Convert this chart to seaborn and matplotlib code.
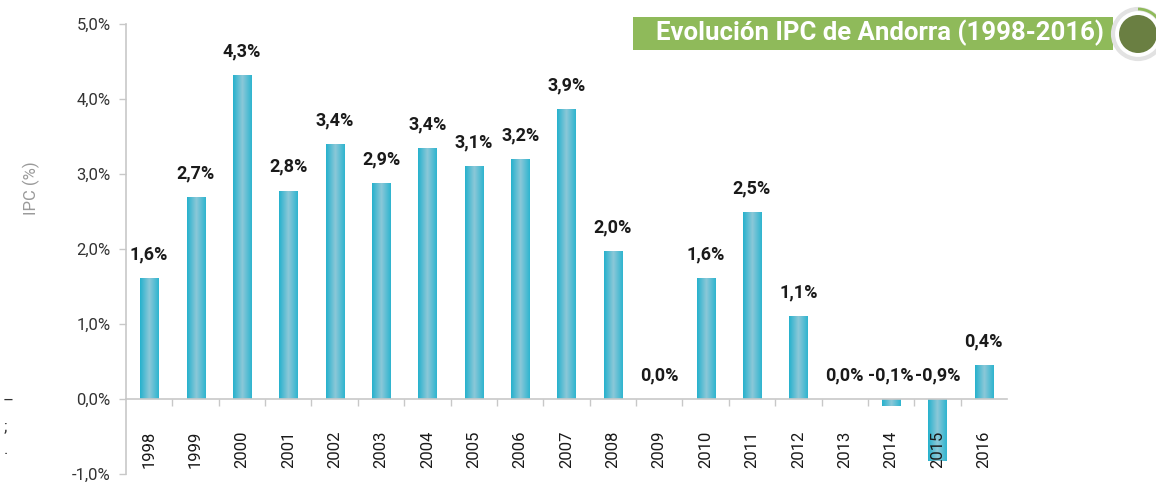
import numpy as np
import pandas as pd
import matplotlib
matplotlib.use("Agg")
import matplotlib.pyplot as plt
import seaborn as sns
from matplotlib.colors import LinearSegmentedColormap
from matplotlib.patches import Rectangle, Circle, Arc
from matplotlib.transforms import IdentityTransform
from matplotlib.ticker import FixedLocator, FuncFormatter

years = ["1998", "1999", "2000", "2001", "2002", "2003", "2004", "2005", "2006", "2007",
         "2008", "2009", "2010", "2011", "2012", "2013", "2014", "2015", "2016"]
ipc = [1.61, 2.69, 4.32, 2.78, 3.40, 2.88, 3.35, 3.11, 3.20, 3.87,
       1.97, 0.0, 1.61, 2.49, 1.11, 0.0, -0.10, -0.83, 0.45]
value_labels = ["1,6%", "2,7%", "4,3%", "2,8%", "3,4%", "2,9%", "3,4%", "3,1%", "3,2%", "3,9%",
                "2,0%", "0,0%", "1,6%", "2,5%", "1,1%", "0,0%", "-0,1%", "-0,9%", "0,4%"]
y_ticks = [-1, 0, 1, 2, 3, 4, 5]
title = "Evolución IPC de Andorra (1998-2016)"
ylabel = "IPC (%)"

sns.set_theme(style="white")
plt.rcParams["font.family"] = ["Roboto", "DejaVu Sans"]

W, H = 1156, 482
fig = plt.figure(figsize=(W / 100, H / 100), dpi=100)
ax = fig.add_axes([126 / W, 8 / H, 881 / W, 450 / H])

df = pd.DataFrame({"year": years, "ipc": ipc})
sns.barplot(data=df, x="year", y="ipc", ax=ax, width=0.39, color="#2ab3ce", saturation=1)

# gradient fill on bars
cmap = LinearSegmentedColormap.from_list("bar", ["#24b1cd", "#8cc8d8", "#2db4cf"], N=256)
grad = np.linspace(0, 1, 256).reshape(1, -1)
for p in list(ax.patches):
    x0, w = p.get_x(), p.get_width()
    y0, h = p.get_y(), p.get_height()
    if abs(h) < 1e-9:
        p.set_visible(False)
        continue
    ylo, yhi = min(y0, y0 + h), max(y0, y0 + h)
    im = ax.imshow(grad, cmap=cmap, aspect="auto", extent=[x0, x0 + w, ylo, yhi],
                   zorder=1.2, interpolation="bilinear")
    im.set_clip_path(p)
    p.set_facecolor("none")
    p.set_edgecolor("none")
ax.set_ylim(-1, 5)
ax.set_xlim(-0.5, len(years) - 0.5)
ax.set_axisbelow(False)

# value labels
for i, (v, lab) in enumerate(zip(ipc, value_labels)):
    base = max(v, 0)
    ax.annotate(lab, (i, base), xytext=(0, 13.5), textcoords="offset points",
                ha="center", va="baseline", fontsize=13, fontweight="bold", color="#1a1a1a")

# spines & ticks
for s in ["top", "right"]:
    ax.spines[s].set_visible(False)
ax.spines["bottom"].set_position(("data", 0))
ax.spines["left"].set_color("#c8c8c8")
ax.spines["bottom"].set_color("#c8c8c8")
ax.spines["left"].set_linewidth(1.2)
ax.spines["bottom"].set_linewidth(1.2)

ax.yaxis.set_major_locator(FixedLocator(y_ticks))
ax.yaxis.set_major_formatter(FuncFormatter(lambda v, _: f"{v:.1f}%".replace(".", ",")))
ax.tick_params(axis="y", which="major", direction="out", length=5, width=1, color="#c8c8c8",
               labelsize=12, labelcolor="#333333", pad=6, left=True)

ax.set_xticks(range(len(years)))
ax.set_xticklabels(years, rotation=90, va="top", ha="center")
ax.set_xticks(np.arange(0.5, len(years) - 0.5, 1), minor=True)
ax.tick_params(axis="x", which="major", length=0, labelsize=12, labelcolor="#1a1a1a", pad=23)
ax.tick_params(axis="x", which="minor", direction="out", length=5, width=1, color="#c8c8c8", bottom=True)

ax.set_xlabel("")
ax.set_ylabel(ylabel, fontsize=12, color="#9a9a9a")
ax.yaxis.set_label_coords((40 - 126) / 881, (474 - 188) / 450)

# title badge
def px(x, y):
    return x, H - y

fig.add_artist(Rectangle(px(633, 50), 1113 - 633, 33, transform=IdentityTransform(),
                         facecolor="#8fba5a", edgecolor="none", zorder=5))
fig.text(880 / W, 1 - 33 / H, title, ha="center", va="center", color="white",
         fontsize=18.5, fontweight="bold", zorder=6)
cx, cy = px(1138, 34)
fig.add_artist(Circle((cx, cy), 25, transform=IdentityTransform(), facecolor="white",
                      edgecolor="#e2e2e2", linewidth=3, zorder=7))
fig.add_artist(Arc((cx, cy), 50, 50, theta1=20, theta2=90, transform=IdentityTransform(),
                   color="#8fba5a", linewidth=2, zorder=8))
fig.add_artist(Circle((cx, cy), 19, transform=IdentityTransform(), facecolor="#6a7f42",
                      edgecolor="none", zorder=9))

# cropped fragments on the left edge
fig.text(3 / W, 1 - 401 / H, "–", ha="left", va="center", fontsize=12, color="#333333")
fig.text(4 / W, 1 - 427 / H, ";", ha="left", va="center", fontsize=12, color="#333333")
fig.text(4 / W, 1 - 450 / H, ".", ha="left", va="center", fontsize=12, color="#333333")

fig.savefig("out.png", dpi=100)
